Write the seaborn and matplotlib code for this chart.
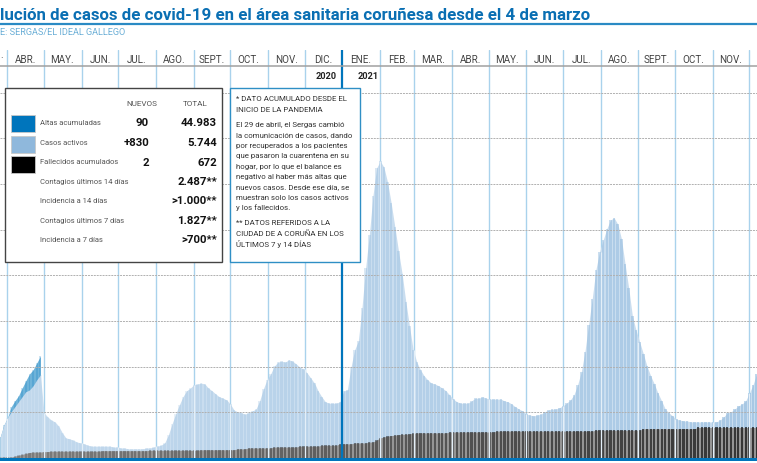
import numpy as np
import pandas as pd
import matplotlib.pyplot as plt
from matplotlib.lines import Line2D
from matplotlib.patches import Rectangle
import seaborn as sns

# Data, one value every 3 days from 26 March 2020
activos = [
    460, 720, 880, 1010, 1120, 1230, 1340, 1450, 1490, 1580,
    1710, 1820, 990, 900, 830, 790, 700, 550, 440, 420,
    390, 350, 330, 310, 280, 260, 260, 260, 260, 260,
    260, 240, 240, 220, 220, 200, 200, 200, 200, 200,
    220, 220, 240, 260, 280, 330, 500, 740, 960, 1160,
    1340, 1470, 1530, 1600, 1620, 1640, 1620, 1530, 1470, 1400,
    1340, 1310, 1270, 1180, 1050, 1010, 990, 960, 990, 1030,
    1070, 1250, 1510, 1710, 1840, 2010, 2100, 2120, 2100, 2150,
    2120, 2060, 1990, 1950, 1860, 1750, 1640, 1470, 1340, 1230,
    1200, 1200, 1200, 1230, 1470, 1490, 1990, 2370, 2560, 3290,
    4160, 4880, 5740, 6350, 6500, 6370, 6040, 5580, 5060, 4530,
    4030, 3420, 2890, 2370, 2100, 1930, 1800, 1710, 1640, 1620,
    1580, 1530, 1470, 1380, 1290, 1230, 1200, 1200, 1200, 1250,
    1310, 1310, 1340, 1310, 1290, 1290, 1290, 1290, 1250, 1230,
    1180, 1120, 1070, 1030, 960, 940, 920, 940, 960, 1010,
    1050, 1070, 1070, 1100, 1140, 1200, 1270, 1380, 1600, 1880,
    2320, 2910, 3480, 4120, 4510, 4770, 5020, 5210, 5260, 5120,
    4800, 4250, 3720, 3110, 2800, 2540, 2280, 2010, 1800, 1620,
    1420, 1250, 1070, 990, 920, 850, 830, 810, 810, 790,
    790, 790, 790, 790, 790, 790, 790, 830, 900, 990,
    1010, 1070, 1140, 1180, 1250, 1420, 1600, 1840,
]
fallecidos = [
    20, 20, 20, 20, 40, 60, 80, 100, 120, 130,
    130, 130, 140, 140, 150, 150, 150, 150, 150, 150,
    150, 150, 150, 150, 150, 150, 150, 150, 160, 160,
    160, 160, 160, 160, 160, 160, 160, 160, 160, 160,
    160, 170, 170, 170, 170, 170, 170, 170, 170, 170,
    170, 170, 170, 170, 170, 180, 180, 180, 180, 180,
    180, 180, 180, 180, 180, 200, 200, 200, 220, 220,
    220, 220, 220, 220, 220, 240, 240, 240, 240, 240,
    240, 240, 260, 260, 260, 260, 260, 260, 280, 280,
    280, 280, 280, 310, 310, 310, 310, 330, 330, 330,
    330, 350, 350, 390, 440, 460, 480, 490, 500, 510,
    520, 520, 530, 540, 550, 550, 550, 550, 550, 550,
    550, 550, 550, 570, 570, 570, 570, 570, 570, 570,
    570, 570, 570, 570, 570, 570, 590, 590, 590, 590,
    590, 590, 590, 590, 590, 590, 590, 590, 590, 590,
    590, 590, 590, 590, 590, 590, 590, 590, 590, 590,
    590, 590, 590, 610, 610, 610, 610, 610, 610, 610,
    610, 610, 610, 610, 610, 610, 640, 640, 640, 640,
    640, 640, 640, 640, 640, 640, 640, 640, 640, 640,
    640, 670, 670, 670, 670, 670, 670, 670, 670, 670,
    670, 670, 670, 670, 670, 670, 670, 670,
]
altas = [460, 720, 880, 1120, 1250, 1360, 1530, 1690, 1840, 1930, 2080, 2230]

meses = ["ABR.", "MAY.", "JUN.", "JUL.", "AGO.", "SEPT.", "OCT.", "NOV.", "DIC.", "ENE.",
         "FEB.", "MAR.", "ABR.", "MAY.", "JUN.", "JUL.", "AGO.", "SEPT.", "OCT.", "NOV."]

leyenda = ["Altas acumuladas", "Casos activos", "Fallecidos acumulados", "Contagios últimos 14 días",
           "Incidencia a 14 días", "Contagios últimos 7 días", "Incidencia a 7 días"]
nuevos = ["90", "+830", "2"]
totales = ["44.983", "5.744", "672", "2.487**", ">1.000**", "1.827**", ">700**"]

nota = [
    "* DATO ACUMULADO DESDE EL", "INICIO DE LA PANDEMIA",
    "El 29 de abril, el Sergas cambió", "la comunicación de casos, dando",
    "por recuperados a los pacientes", "que pasaron la cuarentena en su",
    "hogar, por lo que el balance es", "negativo al haber más altas que",
    "nuevos casos. Desde ese día, se", "muestran solo los casos activos",
    "y los fallecidos.",
    "** DATOS REFERIDOS A LA", "CIUDAD DE A CORUÑA EN LOS", "ÚLTIMOS 7 y 14 DÍAS",
]
nota_y = [99, 109.5, 125, 135, 146, 156, 167, 177, 187, 198, 208, 223, 234, 244]

sns.set_theme(style="white")
plt.rcParams["font.family"] = ["Roboto", "DejaVu Sans"]

W, H = 757, 463
AZUL = "#0075bc"

inicio = pd.Timestamp("2020-03-26")
fechas = pd.date_range(inicio, periods=len(activos), freq="3D")
df = pd.DataFrame({
    "fecha": fechas.strftime("%Y-%m-%d"),
    "activos": activos,
    "fallecidos": fallecidos,
})
df_altas = pd.DataFrame({"fecha": df["fecha"][:len(altas)], "altas": altas})
x = np.arange(len(df))


def pos(fecha):
    return (pd.Timestamp(fecha) - inicio).days / 3


def fx(px):
    return px / W


def fy(py):
    return 1 - py / H


fig = plt.figure(figsize=(W / 100, H / 100), dpi=100)
ax = fig.add_axes([0, fy(458), 1, 408 / H])

# Bars: altas behind, active cases, then deaths
ax.fill_between(x[:len(altas)], altas, color="#6fb3d9", lw=0, zorder=1)
sns.barplot(data=df_altas, x="fecha", y="altas", order=list(df["fecha"]), color=AZUL,
            width=0.5, saturation=1, linewidth=0, alpha=0.2, ax=ax, zorder=1.2)
ax.fill_between(x, df["activos"], color="#c9ddef", lw=0, zorder=2)
sns.barplot(data=df, x="fecha", y="activos", color="#8db7dc", width=0.7, saturation=1,
            linewidth=0, ax=ax, zorder=2.5)
for i, p in enumerate(ax.containers[-1]):
    p.set_alpha(0.1 + 0.45 * i / len(df))

ax.fill_between(x, df["fallecidos"], color="#959595", lw=0, zorder=4)
sns.barplot(data=df, x="fecha", y="fallecidos", color="black", width=0.6, saturation=1,
            linewidth=0, ax=ax, zorder=4.5)
for i, p in enumerate(ax.containers[-1]):
    p.set_alpha(0.15 + 0.5 * i / len(df))

ax.set_xlim(-0.05, 207.1)
ax.set_ylim(0, 8935)

# Dashed value lines
for v in range(1000, 9000, 1000):
    ax.axhline(v, color="#b0b0b0", lw=0.7, ls=(0, (2, 1)), zorder=3)

# Month separators
inicios = pd.date_range("2020-04-01", "2021-12-01", freq="MS")
for m in inicios:
    p = pos(m)
    if m == pd.Timestamp("2021-01-01"):
        continue
    ax.axvline(p, color="#a9d2ec", lw=1, zorder=0.5)
    alto = df["activos"].iloc[min(int(round(p)), len(df) - 1)]
    ax.vlines(p, 0, alto, color="#e4eff8", lw=0.9, zorder=5)
ax.axvline(pos("2021-01-01"), color=AZUL, lw=1.6, zorder=6)

ax.xaxis.tick_top()
ax.set_xticks([pos(m + pd.Timedelta(days=15)) for m in inicios[:len(meses)]])
ax.set_xticklabels(meses, fontsize=7.1, color="#444444")
ax.tick_params(axis="x", direction="in", length=0, pad=-10.5)
ax.set_yticks([])
ax.set_xlabel("")
ax.set_ylabel("")
sns.despine(ax=ax, left=True, bottom=True, right=True, top=True)
fig.add_artist(Rectangle((0, fy(461)), 1, 2.6 / H, transform=fig.transFigure, fc=AZUL, ec="none"))

# Header
fig.text(fx(0), fy(20), "lución de casos de covid-19 en el área sanitaria coruñesa desde el 4 de marzo",
         fontsize=12.2, fontweight="bold", color="#0a6fb3", ha="left", va="baseline")
fig.add_artist(Line2D([0, 1], [fy(24)] * 2, color="#2a8ac4", lw=1.6))
fig.text(fx(0), fy(35), "E: SERGAS/EL IDEAL GALLEGO", fontsize=6.6, color="#6aaed6", va="baseline")
fig.add_artist(Line2D([0, 1], [fy(66)] * 2, color="#a0a0a0", lw=1.1))
fig.text(fx(0.5), fy(58.5), ".", fontsize=7.1, color="#444444", va="baseline")
fig.text(fx(337), fy(79), "2020", fontsize=6.6, fontweight="bold", color="#222222", ha="right", va="baseline")
fig.text(fx(358), fy(79), "2021", fontsize=6.6, fontweight="bold", color="#222222", ha="left", va="baseline")

# Legend box
fig.add_artist(Rectangle((fx(5), fy(262)), 216.5 / W, 174 / H, transform=fig.transFigure,
                         fc="white", ec="#444444", lw=1, zorder=2))
fig.text(fx(142), fy(104), "NUEVOS", fontsize=5.9, color="#555555", ha="center", va="center")
fig.text(fx(195), fy(104), "TOTAL", fontsize=5.9, color="#555555", ha="center", va="center")
filas = [123, 143, 162.5, 182, 201, 220.5, 240]
for y0, color in zip([115, 136, 156.5], [AZUL, "#8fb8dc", "black"]):
    fig.add_artist(Rectangle((fx(11), fy(y0 + 17)), 23.5 / W, 17 / H, transform=fig.transFigure,
                             fc=color, ec="#c8c8c8", lw=0.6, zorder=2.5))
for y, texto in zip(filas, leyenda):
    fig.text(fx(40), fy(y), texto, fontsize=5.5, color="#555555", ha="left", va="center")
for y, texto in zip(filas, nuevos):
    fig.text(fx(149), fy(y), texto, fontsize=8.2, fontweight="bold", color="#111111", ha="right", va="center")
for y, texto in zip(filas, totales):
    fig.text(fx(217), fy(y), texto, fontsize=8.2, fontweight="bold", color="#111111", ha="right", va="center")

# Note box
fig.add_artist(Rectangle((fx(230), fy(262)), 130 / W, 174 / H, transform=fig.transFigure,
                         fc="white", ec="#2f8fc5", lw=1, zorder=2))
for y, texto in zip(nota_y, nota):
    fig.text(fx(236), fy(y), texto, fontsize=5.7, color="#333333", ha="left", va="center")

fig.savefig("out.png", dpi=100)
